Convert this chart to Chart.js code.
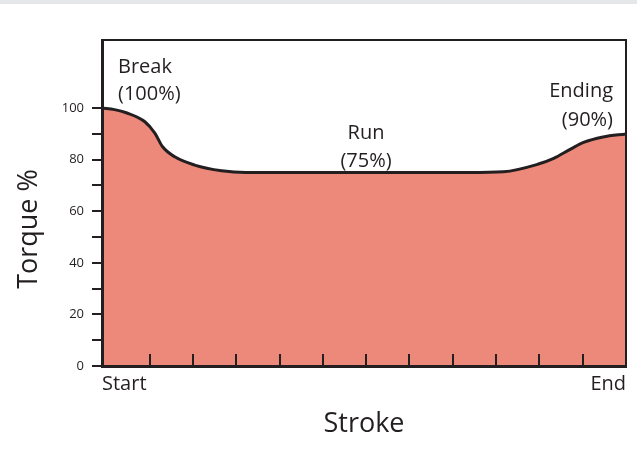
<!DOCTYPE html>
<html>
<head>
<meta charset="utf-8">
<script src="https://cdn.jsdelivr.net/npm/chart.js@4.4.1/dist/chart.umd.min.js"></script>
<style>
  html, body { margin: 0; padding: 0; background: #fff; }
  #strip { height: 4px; background: #e6e7e8; }
  #wrap { width: 637px; height: 468px; }
</style>
</head>
<body>
<div id="strip"></div>
<div id="wrap"><canvas id="torqueChart" width="637" height="468"></canvas></div>
<script>
// stroke position (tick units, start ~ -0.1, end = 12) vs torque %
const strokePos = [-0.1, 0.19, 0.46, 0.89, 1.12, 1.3, 1.58, 2.04, 2.66, 3.22, 8.36, 9.17, 9.96, 10.33, 10.72, 11.02, 11.47, 12];
const torque    = [100, 99.4, 98.2, 94.7, 90.3, 85, 81.1, 77.9, 75.7, 75, 75, 75.3, 78.2, 80.5, 84.1, 86.7, 88.8, 90];
const strokeTicks = [1, 2, 3, 4, 5, 6, 7, 8, 9, 10, 11];
const phaseLabels = [
  { lines: ['Break', '(100%)'] },
  { lines: ['Run', '(75%)'] },
  { lines: ['Ending', '(90%)'] }
];

const INK = '#231f20';
const FONT = '"Open Sans", "Noto Sans", sans-serif';

const decor = {
  id: 'decor',
  afterDraw(chart) {
    const { ctx, chartArea: a, scales: { x } } = chart;
    ctx.save();
    ctx.strokeStyle = INK;
    ctx.lineWidth = 2;
    strokeTicks.forEach(v => {
      const px = Math.round(x.getPixelForValue(v));
      ctx.beginPath();
      ctx.moveTo(px, a.bottom);
      ctx.lineTo(px, a.bottom - 12);
      ctx.stroke();
    });
    // top + right of frame
    ctx.beginPath();
    ctx.moveTo(a.left, a.top);
    ctx.lineTo(a.right, a.top);
    ctx.lineTo(a.right, a.bottom);
    ctx.stroke();

    // y title
    ctx.fillStyle = INK;
    ctx.font = '27px ' + FONT;
    ctx.textAlign = 'center';
    ctx.textBaseline = 'middle';
    ctx.translate(29, 225);
    ctx.rotate(-Math.PI / 2);
    ctx.fillText('Torque %', 0, 0);
    ctx.restore();

    ctx.save();
    ctx.fillStyle = INK;
    ctx.font = '20px ' + FONT;
    ctx.textBaseline = 'middle';
    ctx.textAlign = 'left';
    ctx.fillText(phaseLabels[0].lines[0], a.left + 16, 63);
    ctx.fillText(phaseLabels[0].lines[1], a.left + 16, 90);
    ctx.textAlign = 'center';
    ctx.fillText(phaseLabels[1].lines[0], 366, 129);
    ctx.fillText(phaseLabels[1].lines[1], 366, 157);
    ctx.textAlign = 'right';
    ctx.fillText(phaseLabels[2].lines[0], 613, 87);
    ctx.fillText(phaseLabels[2].lines[1], 613, 116);
    ctx.restore();
  }
};

new Chart(document.getElementById('torqueChart').getContext('2d'), {
  type: 'line',
  data: {
    datasets: [{
      data: strokePos.map((s, i) => ({ x: s, y: torque[i] })),
      borderColor: INK,
      borderWidth: 3,
      backgroundColor: 'rgb(237,137,122)',
      fill: 'origin',
      pointRadius: 0,
      cubicInterpolationMode: 'monotone'
    }]
  },
  options: {
    responsive: false,
    animation: false,
    layout: { padding: { top: 36, right: 11, left: 0, bottom: 0 } },
    plugins: { legend: { display: false }, tooltip: { enabled: false } },
    scales: {
      x: {
        type: 'linear',
        min: -0.1,
        max: 12,
        afterFit: s => { s.height = 106; },
        afterBuildTicks: s => {
          s.ticks = [{ value: -0.1, label: 'Start' }].concat(
            strokeTicks.map(v => ({ value: v })), [{ value: 12 }]);
        },
        grid: { display: false, drawTicks: false },
        border: { display: true, color: INK, width: 3, z: 1 },
        title: {
          display: true,
          text: 'Stroke',
          color: INK,
          font: { family: FONT, size: 27 },
          padding: { top: 0, bottom: 31 }
        },
        ticks: {
          autoSkip: false,
          maxRotation: 0,
          align: 'inner',
          padding: 6,
          color: INK,
          font: { family: FONT, size: 20 },
          callback: v => v === -0.1 ? 'Start' : (v === 12 ? 'End' : '')
        }
      },
      y: {
        min: 0,
        max: 126.4,
        afterFit: s => { s.width = 102; },
        afterBuildTicks: s => { s.ticks = s.ticks.filter(t => t.value <= 100); },
        grid: { drawOnChartArea: false, drawTicks: true, tickLength: 10, color: INK, lineWidth: 2 },
        border: { display: true, color: INK, width: 3, z: 1 },
        ticks: {
          stepSize: 10,
          includeBounds: false,
          padding: 8,
          color: INK,
          font: { family: FONT, size: 13 },
          callback: v => v % 20 === 0 ? String(v) : ''
        }
      }
    }
  },
  plugins: [decor]
});
</script>
</body>
</html>
